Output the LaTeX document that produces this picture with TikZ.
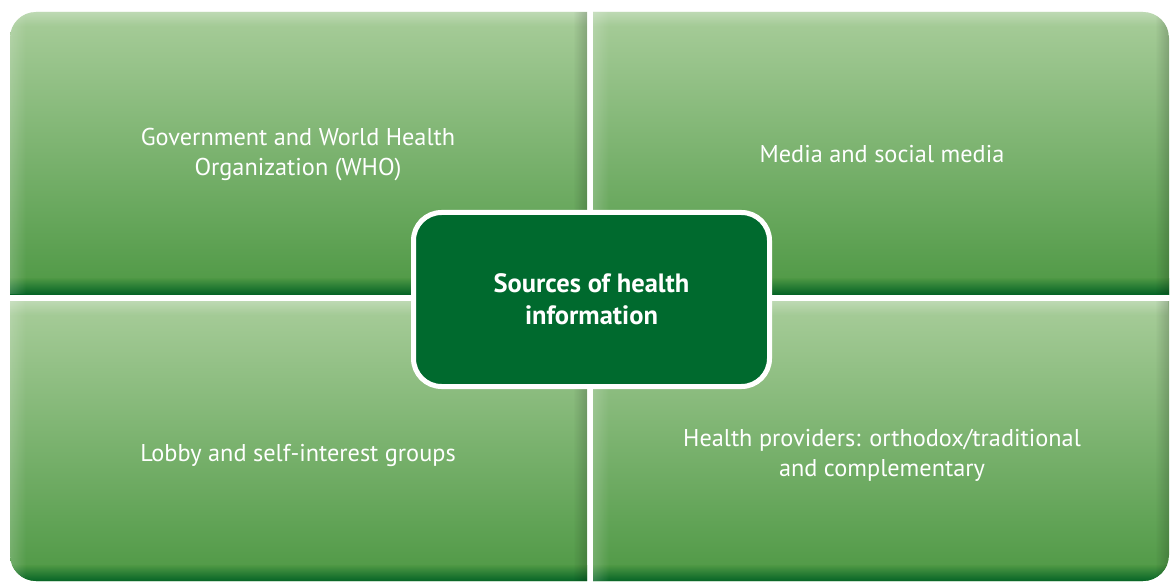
\documentclass[tikz,border=0pt]{standalone}
\usepackage{fontspec}
\setmainfont{PT Sans}
\usetikzlibrary{fadings}
\definecolor{PanelTop}{RGB}{168,205,154}
\definecolor{PanelBottom}{RGB}{78,152,68}
\definecolor{PanelEdge}{RGB}{6,100,38}
\definecolor{HubGreen}{RGB}{0,106,46}

% one shaded quadrant: #1,#2 = top left, #3,#4 = bottom right, #5 = clip for the rounded corner
\newcommand{\greenpanel}[5]{%
  \begin{scope}
    \clip[rounded corners=26pt] #5;
    \shade[top color=PanelTop, bottom color=PanelBottom] (#1,#2) rectangle (#3,#4);
    \shade[top color=PanelBottom, bottom color=PanelEdge] (#1,#4-16) rectangle (#3,#4);
    \fill[white, opacity=.25, path fading=south] (#1,#2) rectangle (#3,#2+14);
    \fill[white, opacity=.18, path fading=east] (#1,#2) rectangle (#1+16,#4);
    \fill[black, opacity=.18, path fading=west] (#3-14,#2) rectangle (#3,#4);
  \end{scope}}

\tikzset{
  paneltext/.style={text=white, align=center, font=\fontsize{24.3}{30}\selectfont},
  hubbox/.style={draw=white, line width=5pt, fill=HubGreen, rounded corners=28pt,
    minimum width=356pt, minimum height=174pt, inner sep=0pt,
    text=white, align=center, font=\bfseries\fontsize{26.5}{32}\selectfont}
}

\begin{document}
\begin{tikzpicture}[x=1pt,y=-1pt]
\useasboundingbox[fill=white] (0,0) rectangle (1171,583);

% quadrants
\greenpanel{10}{12}{587}{294}{(10,12) rectangle (640,340)}
\greenpanel{593}{12}{1169}{294}{(540,12) rectangle (1169,340)}
\greenpanel{10}{301}{587}{581}{(10,250) rectangle (640,581)}
\greenpanel{593}{301}{1169}{581}{(540,250) rectangle (1169,581)}

\node[paneltext] (gov) at (298,155) {Government and World Health\\Organization (WHO)};
\node[paneltext] (media) at (882,154) {Media and social media};
\node[paneltext] (lobby) at (298,455) {Lobby and self-interest groups};
\node[paneltext] (providers) at (882,455) {Health providers: orthodox/traditional\\and complementary};

% centre
\node[hubbox] (hub) at (591.5,299.5) {Sources of health\\information};
\end{tikzpicture}
\end{document}
